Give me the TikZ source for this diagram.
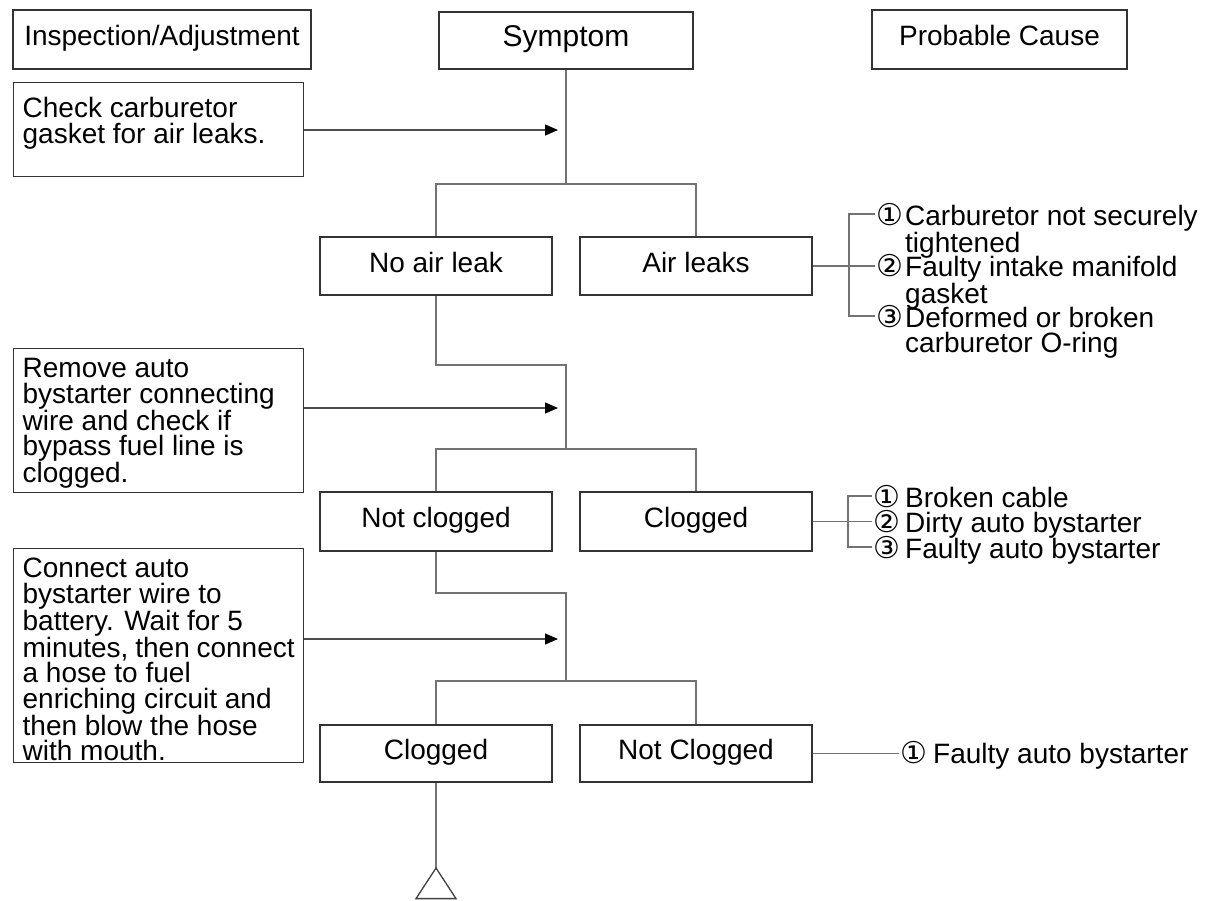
\documentclass[tikz,border=0pt]{standalone}
\usepackage{fontspec}
\setmainfont{Liberation Sans}
\newfontfamily\circfont{DejaVu Sans}
\usetikzlibrary{arrows.meta}
\newcommand\myline[1]{\hbox to\hsize{#1\hfil}}
\newcommand\bodyfnt{\fontsize{28pt}{25.4pt}\selectfont\lineskiplimit=-100pt\relax}
\begin{document}
\begin{tikzpicture}[x=1pt,y=-1pt,
  box/.style={draw=black!80, line width=1.3pt, inner sep=0pt, font=\bodyfnt, text height=20pt, text depth=8pt},
  tbox/.style={draw=black!80, line width=1.3pt, inner xsep=9pt, inner ysep=0pt, anchor=north west, font=\bodyfnt, minimum width=290pt},
  conn/.style={draw=black!55, line width=1.3pt},
  arr/.style={draw=black!70, line width=1.3pt, -{Triangle[length=13pt,width=11pt,color=black]}},
  num/.style={inner sep=1pt, anchor=base west, font=\circfont\fontsize{30pt}{30pt}\selectfont},
  ctext/.style={inner sep=0pt, anchor=base west, font=\bodyfnt}
]
\useasboundingbox (0,0) rectangle (1208,900);

% headers
\node[box, minimum width=298pt, minimum height=59pt] (insp) at (162,39.5) {Inspection/Adjustment};
\node[box, minimum width=254pt, minimum height=57pt, font=\fontsize{30pt}{30pt}\selectfont, text height=21pt, text depth=10pt] (sym) at (566,40.5) {Symptom};
\node[box, minimum width=255pt, minimum height=59pt] (cause) at (999.5,39.5) {Probable Cause};

% inspection boxes
\node[tbox] (check) at (13,82) {\parbox[c][94pt][t]{272pt}{\myline{\rule{0pt}{35pt}Check carburetor}\myline{gasket for air leaks.}}};
\node[tbox] (remove) at (13,348) {\parbox[c][144pt][t]{272pt}{\myline{\rule{0pt}{29pt}Remove auto}\myline{bystarter connecting}\myline{wire and check if}\myline{bypass fuel line is}\myline{clogged.}}};
\node[tbox] (connect) at (13,548) {\parbox[c][214pt][t]{272pt}{\myline{\rule{0pt}{29pt}Connect auto}\myline{bystarter wire to}\myline{battery. Wait for 5}\myline{minutes, then connect}\myline{a hose to fuel}\myline{enriching circuit and}\myline{then blow the hose}\myline{with mouth.}}};

% symptom boxes
\node[box, minimum width=232pt, minimum height=58pt] (noair) at (436,266) {No air leak};
\node[box, minimum width=232pt, minimum height=58pt] (air) at (696,266) {Air leaks};
\node[box, minimum width=232pt, minimum height=59pt] (notclog) at (436,521.5) {Not clogged};
\node[box, minimum width=232pt, minimum height=59pt] (clog) at (696,521.5) {Clogged};
\node[box, minimum width=232pt, minimum height=57pt] (clog3) at (436,753.5) {Clogged};
\node[box, minimum width=232pt, minimum height=57pt] (nclog3) at (696,753.5) {Not Clogged};

% junction coordinates
\coordinate (j1) at (566,184);
\coordinate (k1) at (566,365);
\coordinate (j2) at (566,449);
\coordinate (k2) at (566,593);
\coordinate (j3) at (566,681);
\coordinate (a1) at (558,130);
\coordinate (a2) at (558,408);
\coordinate (a3) at (558,639);

% tree connectors
\draw[conn] (sym.south) -- (j1);
\draw[conn] (noair.north) |- (j1) -| (air.north);
\draw[conn] (noair.south) |- (k1) -- (j2);
\draw[conn] (notclog.north) |- (j2) -| (clog.north);
\draw[conn] (notclog.south) |- (k2) -- (j3);
\draw[conn] (clog3.north) |- (j3) -| (nclog3.north);

% arrows
\draw[arr] (check.east |- a1) -- (a1);
\draw[arr] (remove.east |- a2) -- (a2);
\draw[arr] (connect.east |- a3) -- (a3);

% bottom connector symbol
\coordinate (tri) at (436,868);
\draw[conn] (clog3.south) -- (tri);
\draw[draw=black!75, line width=1.3pt, line join=miter] (tri) -- (416,898.6) -- (456,898.6) -- cycle;

% causes row 1
\node[num] (n11) at (875,225) {①};
\node[ctext] (t11) at (905,225) {\parbox[t]{300pt}{\myline{Carburetor not securely}\myline{tightened}}};
\node[num] (n12) at (875,276) {②};
\node[ctext] (t12) at (905,276) {\parbox[t]{300pt}{\myline{Faulty intake manifold}\myline{gasket}}};
\node[num] (n13) at (875,327) {③};
\node[ctext] (t13) at (905,327) {\parbox[t]{300pt}{\myline{Deformed or broken}\myline{carburetor O-ring}}};
\coordinate (b1) at (849,266);
\draw[conn] (air.east) -- (air.east -| n12.west);
\draw[conn] (n11.west) -| (b1) |- (n13.west);

% causes row 2
\node[num] (n21) at (872,507) {①};
\node[ctext] (t21) at (905,507) {Broken cable};
\node[num] (n22) at (872,532) {②};
\node[ctext] (t22) at (905,532) {Dirty auto bystarter};
\node[num] (n23) at (872,558) {③};
\node[ctext] (t23) at (905,558) {Faulty auto bystarter};
\coordinate (b2) at (848,522);
\draw[conn] (clog.east) -- (clog.east -| n22.west);
\draw[conn] (n21.west) -| (b2) |- (n23.west);

% causes row 3
\node[num] (n31) at (899,763) {①};
\node[ctext] (t31) at (933,763) {Faulty auto bystarter};
\draw[conn] (nclog3.east) -- (nclog3.east -| n31.west);
\end{tikzpicture}
\end{document}
